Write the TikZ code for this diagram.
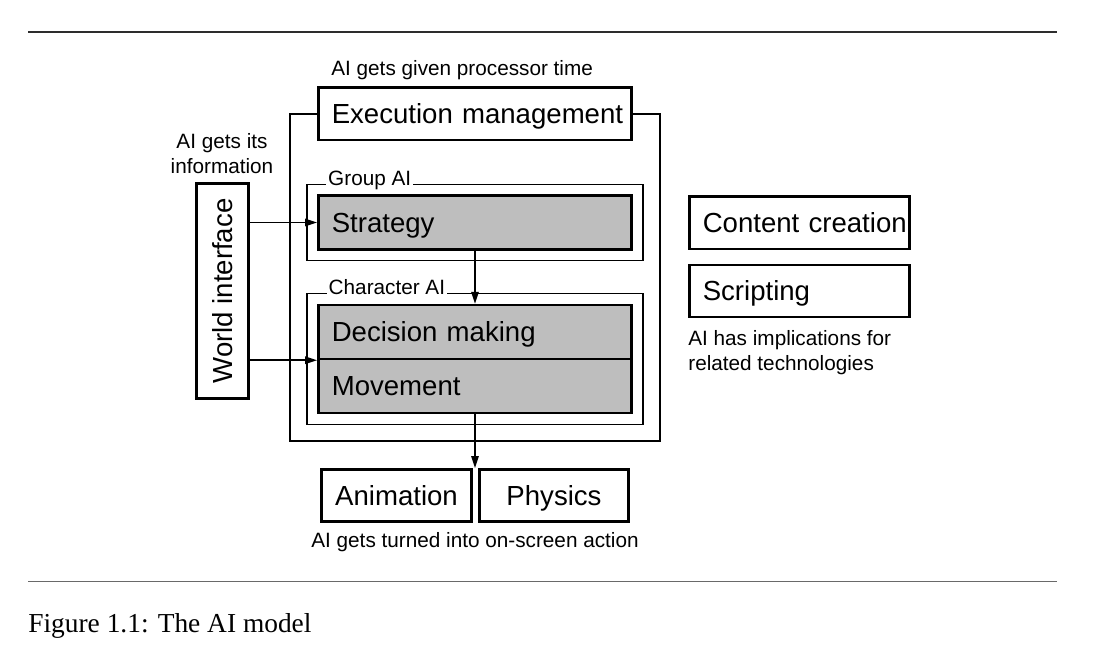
\documentclass[tikz,border=0pt]{standalone}
\usepackage{fontspec}
\usepackage{graphicx}
\usepackage{xcolor}
\usetikzlibrary{arrows.meta,positioning,fit}
\newfontfamily\diagfont{Liberation Sans}
\newfontfamily\capfont{Liberation Serif}
\newcommand{\boxfont}{\diagfont\fontsize{15.7}{19}\selectfont\hyphenpenalty=10000\relax}
\newcommand{\notefont}{\diagfont\fontsize{11.8}{14.2}\selectfont}
\definecolor{boxgray}{RGB}{190,190,190}
\definecolor{toprulecol}{RGB}{45,45,45}
\definecolor{botrulecol}{RGB}{105,105,105}

\begin{document}
\begin{tikzpicture}[
  x=0.02cm, y=-0.02cm,
  block/.style={draw, line width=0.05cm, inner xsep=0.27cm, inner ysep=0pt, align=left, font=\boxfont,
    text height=11.3pt, text depth=-0.5pt, minimum height=1.05cm},
  stackbox/.style={block, fill=boxgray, text width=5.73cm, minimum height=1.08cm},
  outbox/.style={block, align=center, minimum width=2.98cm},
  sidebox/.style={draw, line width=0.05cm, inner sep=0pt, minimum width=1.05cm, minimum height=4.31cm, font=\boxfont},
  frame/.style={draw, line width=0.026cm},
  tag/.style={fill=white, font=\notefont, inner xsep=0.04cm, inner ysep=0.02cm, anchor=base west},
  note/.style={font=\notefont, inner sep=0pt},
  arr/.style={-{Triangle[length=0.24cm,width=0.15cm]}, line width=0.032cm},
  rule/.style={line width=0.026cm}
]
\useasboundingbox (0,0) rectangle (1112,661);

% rules above and below the figure
\draw[rule, toprulecol] (28,32) -- (1057,32);
\draw[rule, botrulecol] (28,581.5) -- (1057,581.5);

% execution management and its frame
\node[block, text width=5.73cm] (exec) at (475,114) {Execution~management};
\draw[frame] (exec.west) -| (290,441) -| (660,114) -- (exec.east);
\node[note, anchor=base west] (proc) at (331,76) {AI gets given processor time};

% group and character AI
\node[stackbox] (strat) at (475,222.5) {Strategy};
\node[stackbox] (dec) at (475,332) {Decision~making};
\node[stackbox] (mov) at (475,386) {Movement};
\node[frame, fit=(strat), inner sep=0.2cm] (grp) {};
\node[frame, fit=(dec)(mov), inner sep=0.2cm] (chr) {};
\node[tag] (grptag) at ([xshift=0.39cm, yshift=-0.03cm]grp.north west) {Group AI};
\node[tag] (chrtag) at ([xshift=0.40cm, yshift=-0.03cm]chr.north west) {Character AI};

% world interface
\node[sidebox] (wi) at (222.5,291) {\rotatebox{90}{World interface}};
\node[note, align=center, anchor=south] (info) at (222,174) {AI gets its\\information};

% output
\node[outbox] (anim) at (396.5,495.5) {Animation};
\node[outbox] (phys) at (554,495.5) {Physics};
\node[note, anchor=base] (act) at (475,548) {AI gets turned into on-screen action};

% related technologies
\node[block, text width=3.87cm] (cont) at (799.5,223) {Content~creation};
\node[block, text width=3.87cm] (scr) at (799.5,291) {Scripting};
\node[note, align=left, anchor=north west] (tech) at (688,330) {AI has implications for\\related technologies};

% connectors
\draw[arr] (wi.east |- strat.west) -- (strat.west);
\draw[arr] (wi.east |- dec.south west) -- (dec.south west);
\draw[arr] (strat.south) -- (dec.north);
\draw[arr] (mov.south) -- (mov.south |- anim.north);

% caption
\node[font=\capfont\fontsize{15.6}{19}\selectfont, inner sep=0pt, anchor=base west] (cap) at (28,633) {Figure 1.1: The AI model};
\end{tikzpicture}
\end{document}
